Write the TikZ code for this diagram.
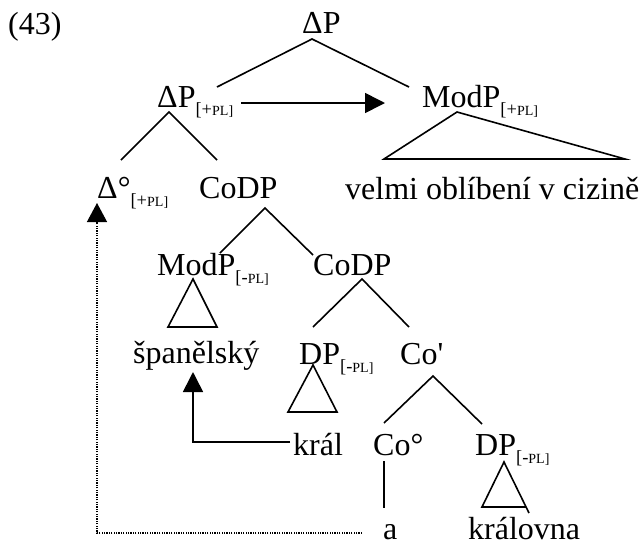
\documentclass[tikz,border=0pt]{standalone}
\usepackage{fontspec}
\setmainfont{Liberation Serif}
\usetikzlibrary{arrows.meta}
\newcommand\featsub[1]{\raisebox{-8pt}{\fontsize{18.5}{18.5}\selectfont[#1\fontsize{14}{14}\selectfont PL]}}
\begin{document}
\begin{tikzpicture}[x=1pt,y=-1pt,
  lbl/.style={anchor=base west, inner sep=0pt, font=\fontsize{32}{38}\selectfont},
  edge/.style={line width=1.6pt},
  mv/.style={line width=1.6pt, -{Triangle[length=20pt,width=20pt]}},
  trace/.style={line width=1.3pt, dash pattern=on 1.2pt off 1.2pt, -{Triangle[length=19pt,width=20pt]}}]
\useasboundingbox (0,0) rectangle (641,547);
% labels
\node[lbl] (ex) at (8,34) {(43)};
\node[lbl] (top) at (302,33) {ΔP};
\node[lbl] (dpl) at (157,107) {ΔP\featsub{+}};
\node[lbl] (modpl) at (422,107) {ModP\featsub{+}};
\node[lbl] (dhead) at (97,198) {Δ°\featsub{+}};
\node[lbl] (codpA) at (199,198) {CoDP};
\node[lbl] (velmi) at (345,199) {velmi oblíbení v cizině};
\node[lbl] (modmi) at (157,275) {ModP\featsub{-}};
\node[lbl] (codpB) at (313,275) {CoDP};
\node[lbl] (span) at (133,363) {španělský};
\node[lbl] (dpmi) at (299,364) {DP\featsub{-}};
\node[lbl] (cobar) at (400,364) {Co\textquotesingle};
\node[lbl] (kral) at (293,455) {král};
\node[lbl] (cohead) at (373,455) {Co°};
\node[lbl] (dpmiB) at (475,455) {DP\featsub{-}};
\node[lbl] (a) at (383,539.5) {a};
\node[lbl] (kralovna) at (468,539.5) {královna};
% attachment points
\coordinate (top-b) at (312,39);
\coordinate (dpl-t) at (217,87);
\coordinate (modpl-t) at (409,87);
\coordinate (dpl-b) at (169,112);
\coordinate (dhead-t) at (121,160);
\coordinate (codpA-t) at (217,160);
\coordinate (modpl-b) at (457,112);
\coordinate (velmi-l) at (384,159);
\coordinate (velmi-r) at (625,159);
\coordinate (codpA-b) at (265,208);
\coordinate (modmi-t) at (220,253);
\coordinate (codpB-t) at (313,255);
\coordinate (modmi-b) at (193,279);
\coordinate (span-l) at (168,327);
\coordinate (span-r) at (217,327);
\coordinate (codpB-b) at (362,279);
\coordinate (dpmi-t) at (313,327);
\coordinate (cobar-t) at (409,327);
\coordinate (dpmi-b) at (313,365);
\coordinate (kral-l) at (288,412);
\coordinate (kral-r) at (337,412);
\coordinate (cobar-b) at (433,376);
\coordinate (cohead-t) at (384,423);
\coordinate (dpmiB-t) at (482,424);
\coordinate (cohead-b) at (384,461);
\coordinate (a-t) at (384,508);
\coordinate (dpmiB-b) at (504,462);
\coordinate (kralovna-l) at (482,507);
\coordinate (kralovna-r) at (526,507);
\coordinate (kralovna-x) at (529,513);
\coordinate (mv-s) at (241,103);
\coordinate (mv-e) at (385,103);
\coordinate (kral-w) at (290,442);
\coordinate (span-bend) at (193,442);
\coordinate (span-b) at (193,372);
\coordinate (a-w) at (362,533);
\coordinate (tr-bend) at (97,533);
\coordinate (dhead-b) at (97,203);
% tree edges
\draw[edge] (dpl-t) -- (top-b) -- (modpl-t);
\draw[edge] (dhead-t) -- (dpl-b) -- (codpA-t);
\draw[edge] (modpl-b) -- (velmi-l) -- (velmi-r) -- cycle;
\draw[edge] (modmi-t) -- (codpA-b) -- (codpB-t);
\draw[edge] (modmi-b) -- (span-l) -- (span-r) -- cycle;
\draw[edge] (dpmi-t) -- (codpB-b) -- (cobar-t);
\draw[edge] (dpmi-b) -- (kral-l) -- (kral-r) -- cycle;
\draw[edge] (cohead-t) -- (cobar-b) -- (dpmiB-t);
\draw[edge] (cohead-b) -- (a-t);
\draw[edge] (kralovna-x) -- (dpmiB-b) -- (kralovna-l) -- (kralovna-r);
% movement arrows
\draw[mv] (mv-s) -- (mv-e);
\draw[mv] (kral-w) -- (span-bend) -- (span-b);
\draw[trace] (a-w) -- (tr-bend) -- (dhead-b);
\end{tikzpicture}
\end{document}
